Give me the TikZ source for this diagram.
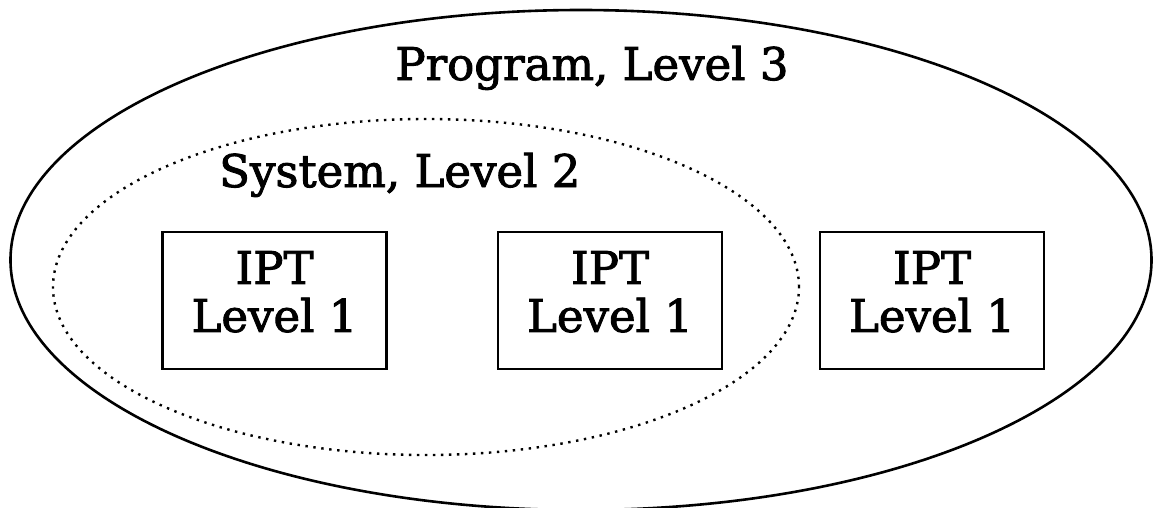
\documentclass[tikz,border=0pt]{standalone}
\usepackage{fontspec}
\setmainfont{DejaVu Serif}[FakeBold=2]
\newfontfamily\labelfont{DejaVu Serif}[FakeBold=2]
\usetikzlibrary{shapes.geometric}
\begin{document}
\begin{tikzpicture}[x=1pt,y=-1pt,
  solidoval/.style={draw, ellipse, line width=2.6pt, inner sep=0pt},
  dottedoval/.style={draw, ellipse, line width=2.4pt, dash pattern=on 2.4pt off 5.6pt, inner sep=0pt},
  ipt/.style={draw, line width=2.4pt, minimum width=224pt, minimum height=137pt, align=center, inner sep=0pt,
    font=\labelfont\fontsize{45}{48}\selectfont, execute at end node={\rule[-18pt]{0pt}{18pt}}},
  biglabel/.style={font=\labelfont\fontsize{45}{52}\selectfont, inner sep=0pt}]
\useasboundingbox (0,0) rectangle (1153,507);
\node[solidoval, minimum width=1141pt, minimum height=500pt] (program) at (581,260) {};
\node[dottedoval, minimum width=746pt, minimum height=336pt] (system) at (426,287) {};
\node[biglabel, anchor=base] (programlabel) at (592,80) {Program, Level 3};
\node[biglabel, anchor=base west] (systemlabel) at (219,187) {System, Level 2};
\node[ipt] (ipta) at (274.5,300.5) {IPT\\Level 1};
\node[ipt] (iptb) at (610,300.5) {IPT\\Level 1};
\node[ipt] (iptc) at (932,300.5) {IPT\\Level 1};
\end{tikzpicture}
\end{document}
